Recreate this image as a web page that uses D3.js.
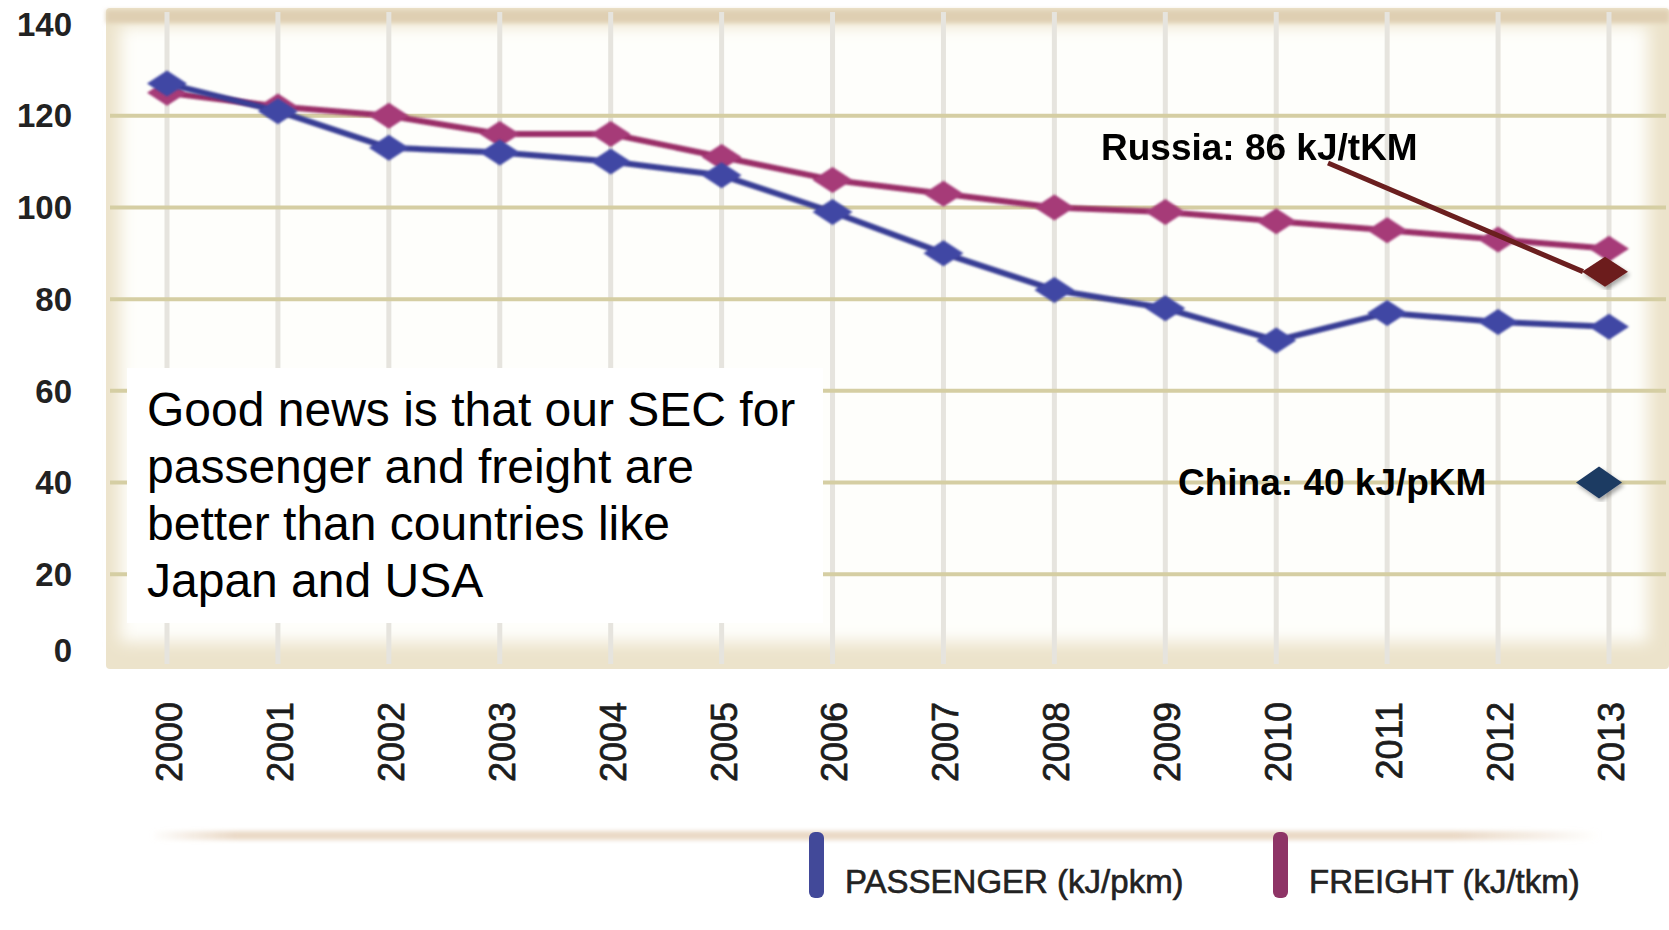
<!DOCTYPE html>
<html>
<head>
<meta charset="utf-8">
<script src="https://d3js.org/d3.v7.min.js"></script>
<style>
    body { margin: 0; background: #FFF; }
    svg { display: block; font-family: "Liberation Sans", Arial, sans-serif; }
</style>
</head>
<body>
<script>
    var years = [2000, 2001, 2002, 2003, 2004, 2005, 2006, 2007, 2008, 2009, 2010, 2011, 2012, 2013];
    var passenger = [127, 121, 113, 112, 110, 107, 99, 90, 82, 78, 71, 77, 75, 74];
    var freight = [125, 122, 120, 116, 116, 111, 106, 103, 100, 99, 97, 95, 93, 91];
    var yTicks = [0, 20, 40, 60, 80, 100, 120, 140];
    var gridValues = [20, 40, 60, 80, 100, 120];
    var legendNames = ['PASSENGER (kJ/pkm)', 'FREIGHT (kJ/tkm)'];
    var russiaLabel = 'Russia: 86 kJ/tKM', russiaValue = 86;
    var chinaLabel = 'China: 40 kJ/pKM', chinaValue = 40;
    var note = ['Good news is that our SEC for', 'passenger and freight are', 'better than countries like', 'Japan and USA'];

    var W = 1669, H = 930;
    var svg = d3.select('body').append('svg').attr('width', W).attr('height', H);

    var x = d3.scaleLinear().domain([2000, 2013]).range([167, 1609]);
    var y = d3.scaleLinear().domain([0, 140]).range([666, 24]);

    var defs = svg.append('defs');
    defs.append('filter').attr('id', 'soft').attr('x', '-5%').attr('y', '-5%').attr('width', '110%').attr('height', '110%')
        .append('feGaussianBlur').attr('stdDeviation', 8);
    defs.append('filter').attr('id', 'blur1').append('feGaussianBlur').attr('stdDeviation', 0.8);
    defs.append('filter').attr('id', 'blur2').attr('y', '-100%').attr('height', '300%')
        .append('feGaussianBlur').attr('stdDeviation', 2);
    defs.append('filter').attr('id', 'shadow').append('feDropShadow')
        .attr('dx', 2).attr('dy', 3).attr('stdDeviation', 2).attr('flood-color', '#000').attr('flood-opacity', 0.35);
    var lg = defs.append('linearGradient').attr('id', 'legline');
    lg.append('stop').attr('offset', '0').attr('stop-color', '#ead9c6').attr('stop-opacity', 0);
    lg.append('stop').attr('offset', '0.06').attr('stop-color', '#ead9c6');
    lg.append('stop').attr('offset', '0.9').attr('stop-color', '#ead9c6');
    lg.append('stop').attr('offset', '1').attr('stop-color', '#ead9c6').attr('stop-opacity', 0);

    // frame
    svg.append('rect').attr('x', 106).attr('y', 8).attr('width', 1563).attr('height', 661)
        .attr('rx', 4).attr('fill', '#ece3cb');
    svg.append('rect').attr('x', 120).attr('y', 26).attr('width', 1528).attr('height', 616)
        .attr('fill', '#fefefb').attr('filter', 'url(#soft)');
    svg.append('rect').attr('x', 106).attr('y', 10).attr('width', 1563).attr('height', 13)
        .attr('fill', '#dfcfb2').attr('filter', 'url(#blur2)');

    // grid
    svg.append('g').selectAll('line').data(years).enter().append('line')
        .attr('x1', function(d){ return x(d); }).attr('x2', function(d){ return x(d); })
        .attr('y1', 12).attr('y2', 664)
        .attr('stroke', '#e6e4de').attr('stroke-width', 5);
    svg.append('g').selectAll('line').data(gridValues).enter().append('line')
        .attr('x1', 110).attr('x2', 1666)
        .attr('y1', function(d){ return y(d); }).attr('y2', function(d){ return y(d); })
        .attr('stroke', '#d5cea3').attr('stroke-width', 4);

    // axes
    var yAxis = svg.append('g').attr('transform', 'translate(72,0)')
        .call(d3.axisLeft(y).tickValues(yTicks).tickSize(0).tickPadding(0));
    yAxis.select('.domain').remove();
    yAxis.selectAll('text').attr('font-size', 33).attr('font-weight', 'bold').attr('fill', '#222')
        .attr('font-family', '"Liberation Sans", Arial, sans-serif')
        .attr('dy', function(d){ return d === 0 ? '-0.15em' : '0.34em'; });

    var xAxis = svg.append('g').attr('transform', 'translate(0,702)')
        .call(d3.axisBottom(x).tickValues(years).tickFormat(d3.format('d')).tickSize(0));
    xAxis.select('.domain').remove();
    xAxis.selectAll('text').attr('font-size', 36).attr('fill', '#1c1c1c')
        .attr('stroke', '#1c1c1c').attr('stroke-width', 0.7)
        .attr('font-family', '"Liberation Sans", Arial, sans-serif')
        .attr('transform', 'rotate(-90)').attr('text-anchor', 'end')
        .attr('x', 0).attr('y', 0).attr('dy', '0.4em');

    // series
    var line = d3.line().x(function(d, i){ return x(years[i]); }).y(function(d){ return y(d); });
    function diamond(w, h) { return 'M' + (-w) + ',0L0,' + (-h) + 'L' + w + ',0L0,' + h + 'Z'; }

    function drawSeries(values, stroke, fill) {
        var g = svg.append('g').attr('filter', 'url(#blur1)');
        g.append('path').datum(values).attr('d', line)
            .attr('fill', 'none').attr('stroke', stroke).attr('stroke-width', 6).attr('stroke-linejoin', 'round');
        g.selectAll('path.pt').data(values).enter().append('path').attr('class', 'pt')
            .attr('d', diamond(20, 13))
            .attr('transform', function(d, i){ return 'translate(' + x(years[i]) + ',' + y(d) + ')'; })
            .attr('fill', fill);
    }
    drawSeries(freight, '#9a2f68', '#a63a78');
    drawSeries(passenger, '#393d94', '#4146a4');

    // Russia / China annotations
    var rx = x(2013) - 4, ry = y(russiaValue);
    svg.append('line').attr('x1', 1328).attr('y1', 163).attr('x2', rx - 22).attr('y2', ry)
        .attr('stroke', '#6b1f1f').attr('stroke-width', 5);
    svg.append('path').attr('d', diamond(23, 15)).attr('transform', 'translate(' + rx + ',' + ry + ')')
        .attr('fill', '#6c1d1e').attr('filter', 'url(#shadow)');
    svg.append('text').attr('x', 1101).attr('y', 160).attr('font-size', 37).attr('font-weight', 'bold')
        .attr('fill', '#000').text(russiaLabel);

    var cx = x(2013) - 10, cy = y(chinaValue);
    svg.append('path').attr('d', diamond(23, 16)).attr('transform', 'translate(' + cx + ',' + cy + ')')
        .attr('fill', '#1e3a62').attr('filter', 'url(#shadow)');
    svg.append('text').attr('x', 1178).attr('y', 495).attr('font-size', 37).attr('font-weight', 'bold')
        .attr('fill', '#000').text(chinaLabel);

    // note box
    svg.append('rect').attr('x', 127).attr('y', 368).attr('width', 696).attr('height', 255).attr('fill', '#fff');
    svg.append('g').selectAll('text').data(note).enter().append('text')
        .attr('x', 147).attr('y', function(d, i){ return 426 + i * 57; })
        .attr('font-size', 48).attr('fill', '#000').text(function(d){ return d; });

    // legend
    svg.append('rect').attr('x', 150).attr('y', 831).attr('width', 1450).attr('height', 9)
        .attr('fill', 'url(#legline)').attr('filter', 'url(#blur2)');
    var legColors = ['#424999', '#8e3466'];
    var legX = [809, 1273];
    var leg = svg.append('g').selectAll('g').data(legendNames).enter().append('g')
        .attr('transform', function(d, i){ return 'translate(' + legX[i] + ',0)'; });
    leg.append('rect').attr('x', 0).attr('y', 832).attr('width', 15).attr('height', 66).attr('rx', 6)
        .attr('fill', function(d, i){ return legColors[i]; });
    leg.append('text').attr('x', 36).attr('y', 893).attr('font-size', 33).attr('fill', '#222')
        .attr('stroke', '#222').attr('stroke-width', 0.6)
        .text(function(d){ return d; });
</script>
</body>
</html>
